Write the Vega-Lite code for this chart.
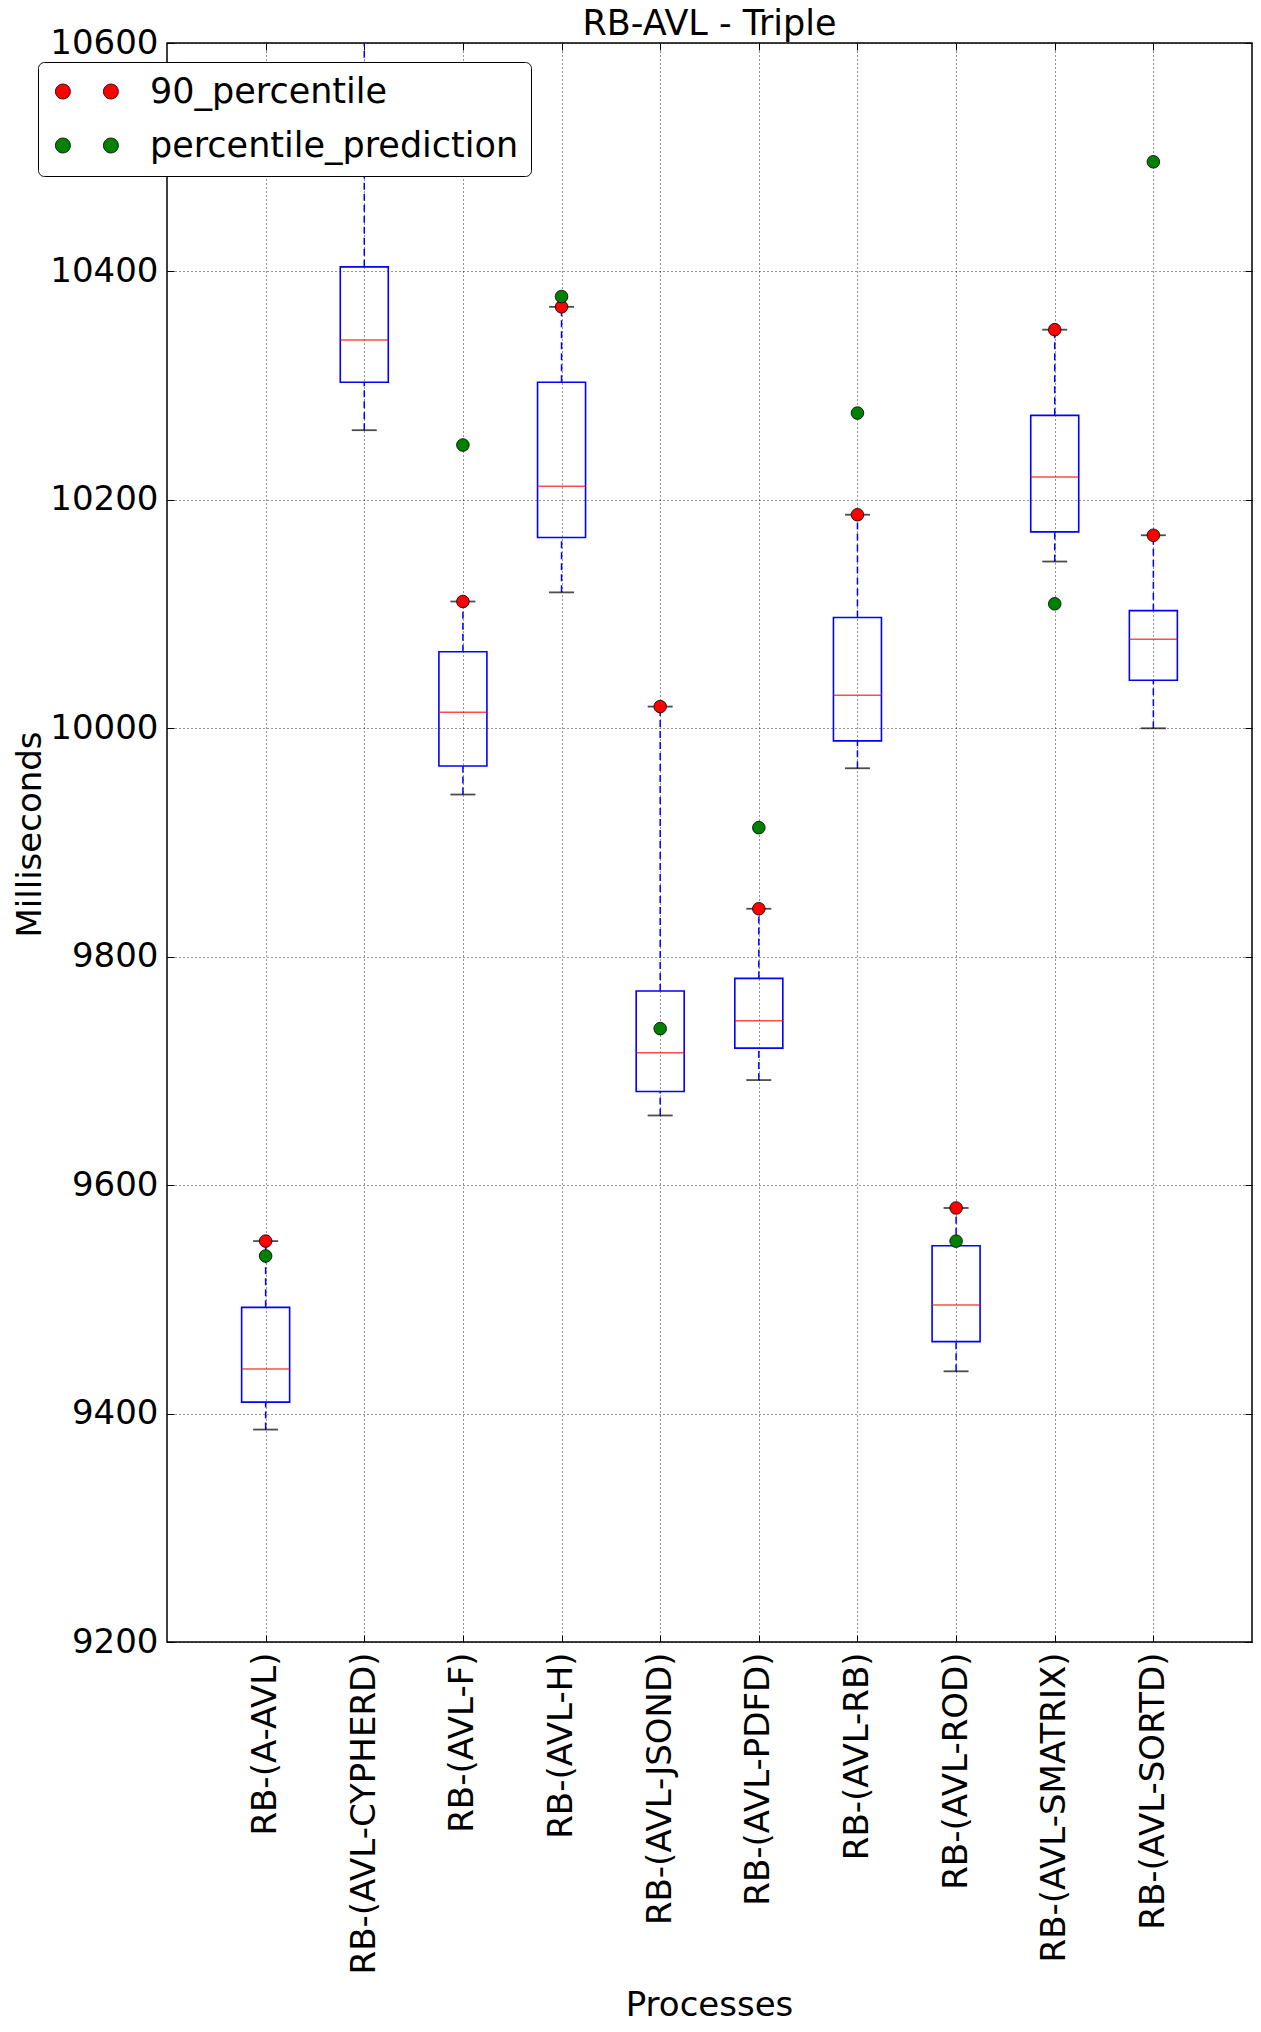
{
  "$schema": "https://vega.github.io/schema/vega-lite/v6.json",
  "width": 1085,
  "height": 1599,
  "autosize": {"type": "none"},
  "padding": {"left": 167, "top": 43, "right": 9, "bottom": 390},
  "background": "white",
  "title": {
    "text": "RB-AVL - Triple",
    "font": "DejaVu Sans",
    "fontSize": 35,
    "fontWeight": "normal",
    "color": "black",
    "frame": "group",
    "anchor": "middle",
    "baseline": "alphabetic",
    "offset": -44
  },
  "config": {
    "view": {"stroke": "black", "strokeWidth": 1.5},
    "font": "DejaVu Sans",
    "axis": {
      "grid": true,
      "gridColor": "black",
      "gridDash": [1, 3],
      "gridWidth": 1,
      "gridOpacity": 0.85,
      "domain": false,
      "ticks": true,
      "tickColor": "black",
      "tickSize": -7,
      "tickWidth": 1,
      "labelColor": "black",
      "titleColor": "black",
      "labelFont": "DejaVu Sans",
      "titleFont": "DejaVu Sans",
      "titleFontWeight": "normal",
      "titleFontSize": 34,
      "labelLimit": 0
    },
    "axisX": {
      "labelAngle": 270,
      "labelFontSize": 34,
      "labelPadding": 17,
      "titleX": 542,
      "titleY": 373,
      "titleBaseline": "alphabetic",
      "titleAnchor": null
    },
    "axisY": {
      "labelFontSize": 34,
      "labelPadding": 16,
      "labelFlush": false,
      "labelOverlap": false,
      "tickCount": 8,
      "format": "d",
      "titleAngle": 270,
      "titleX": -127,
      "titleY": 791,
      "titleBaseline": "alphabetic",
      "titleAlign": "center"
    }
  },
  "data": {
    "values": [
      {"process": "RB-(A-AVL)", "lo": 9386, "q1": 9410, "med": 9439, "q3": 9493, "hi": 9551, "90_percentile": 9551, "percentile_prediction": 9538},
      {"process": "RB-(AVL-CYPHERD)", "lo": 10261, "q1": 10303, "med": 10340, "q3": 10404, "hi": 10660, "90_percentile": 10660, "percentile_prediction": 10720},
      {"process": "RB-(AVL-F)", "lo": 9942, "q1": 9967, "med": 10014, "q3": 10067, "hi": 10111, "90_percentile": 10111, "percentile_prediction": 10248},
      {"process": "RB-(AVL-H)", "lo": 10119, "q1": 10167, "med": 10212, "q3": 10303, "hi": 10369, "90_percentile": 10369, "percentile_prediction": 10378},
      {"process": "RB-(AVL-JSOND)", "lo": 9661, "q1": 9682, "med": 9716, "q3": 9770, "hi": 10019, "90_percentile": 10019, "percentile_prediction": 9737},
      {"process": "RB-(AVL-PDFD)", "lo": 9692, "q1": 9720, "med": 9744, "q3": 9781, "hi": 9842, "90_percentile": 9842, "percentile_prediction": 9913},
      {"process": "RB-(AVL-RB)", "lo": 9965, "q1": 9989, "med": 10029, "q3": 10097, "hi": 10187, "90_percentile": 10187, "percentile_prediction": 10276},
      {"process": "RB-(AVL-ROD)", "lo": 9437, "q1": 9463, "med": 9495, "q3": 9547, "hi": 9580, "90_percentile": 9580, "percentile_prediction": 9551},
      {"process": "RB-(AVL-SMATRIX)", "lo": 10146, "q1": 10172, "med": 10220, "q3": 10274, "hi": 10349, "90_percentile": 10349, "percentile_prediction": 10109},
      {"process": "RB-(AVL-SORTD)", "lo": 10000, "q1": 10042, "med": 10078, "q3": 10103, "hi": 10169, "90_percentile": 10169, "percentile_prediction": 10496}
    ]
  },
  "resolve": {"axis": {"x": "independent", "y": "independent"}},
  "layer": [
    {
      "mark": {"type": "rule", "color": "blue", "strokeWidth": 1.5, "strokeDash": [7, 4], "clip": true},
      "encoding": {
        "x": {"field": "process", "type": "nominal", "sort": null, "title": "Processes", "scale": {"type": "point", "padding": 1}},
        "y": {"field": "q3", "type": "quantitative", "title": "Milliseconds", "scale": {"domain": [9200, 10600], "nice": false, "zero": false}},
        "y2": {"field": "hi"}
      }
    },
    {
      "mark": {"type": "rule", "color": "blue", "strokeWidth": 1.5, "strokeDash": [7, 4], "clip": true},
      "encoding": {
        "x": {"field": "process", "type": "nominal", "sort": null, "axis": {"orient": "top", "labels": false, "title": null, "grid": false}},
        "y": {"field": "lo", "type": "quantitative", "axis": {"orient": "right", "labels": false, "title": null, "grid": false}},
        "y2": {"field": "q1"}
      }
    },
    {
      "mark": {"type": "tick", "color": "black", "size": 25, "thickness": 1.8, "clip": true},
      "encoding": {
        "x": {"field": "process", "type": "nominal", "sort": null, "axis": null},
        "y": {"field": "hi", "type": "quantitative", "axis": null}
      }
    },
    {
      "mark": {"type": "tick", "color": "black", "size": 25, "thickness": 1.8, "clip": true},
      "encoding": {
        "x": {"field": "process", "type": "nominal", "sort": null, "axis": null},
        "y": {"field": "lo", "type": "quantitative", "axis": null}
      }
    },
    {
      "mark": {"type": "bar", "width": 48, "fill": "white", "fillOpacity": 0, "stroke": "blue", "strokeWidth": 1.6, "clip": true},
      "encoding": {
        "x": {"field": "process", "type": "nominal", "sort": null, "axis": null},
        "y": {"field": "q1", "type": "quantitative", "axis": null},
        "y2": {"field": "q3"}
      }
    },
    {
      "mark": {"type": "tick", "color": "red", "size": 48, "thickness": 1.5, "clip": true},
      "encoding": {
        "x": {"field": "process", "type": "nominal", "sort": null, "axis": null},
        "y": {"field": "med", "type": "quantitative", "axis": null}
      }
    },
    {
      "transform": [{"fold": ["90_percentile", "percentile_prediction"], "as": ["series", "value"]}],
      "mark": {"type": "point", "shape": "circle", "filled": true, "size": 160, "stroke": "black", "strokeWidth": 0.8, "opacity": 1, "clip": true},
      "encoding": {
        "x": {"field": "process", "type": "nominal", "sort": null, "axis": null},
        "y": {"field": "value", "type": "quantitative", "axis": null},
        "fill": {
          "field": "series",
          "type": "nominal",
          "scale": {"domain": ["90_percentile", "percentile_prediction"], "range": ["#ff0000", "#008000"]},
          "legend": {
            "title": null,
            "orient": "none",
            "legendX": -129,
            "legendY": 19,
            "symbolType": "M 0.193 0 A 0.5 0.5 0 1 1 -0.807 0 A 0.5 0.5 0 1 1 0.193 0 Z M 3.393 0 A 0.5 0.5 0 1 1 2.393 0 A 0.5 0.5 0 1 1 3.393 0 Z",
            "symbolSize": 900,
            "symbolStrokeColor": "black",
            "symbolStrokeWidth": 0.8,
            "symbolOpacity": 1,
            "labelFontSize": 35,
            "labelFont": "DejaVu Sans",
            "labelColor": "black",
            "labelLimit": 0,
            "labelOffset": 65,
            "padding": 12,
            "rowPadding": 18,
            "fillColor": "white",
            "strokeColor": "black",
            "cornerRadius": 6
          }
        }
      }
    }
  ]
}
